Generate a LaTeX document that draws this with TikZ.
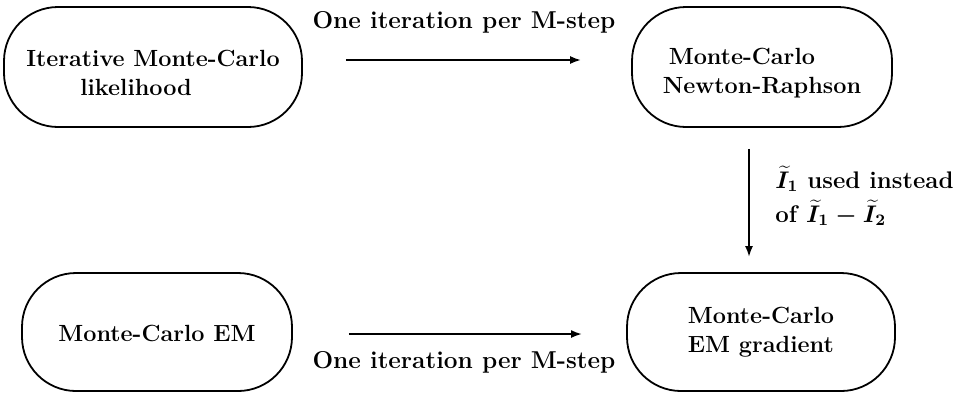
\documentclass[tikz,border=0pt]{standalone}
\usetikzlibrary{arrows.meta}
\begin{document}
\begin{tikzpicture}[x=0.5pt,y=-0.5pt,
  box/.style={draw, line width=0.9pt, rounded corners=27pt, inner sep=0pt,
    minimum height=60pt, align=left,
    font=\fontsize{11.7}{14.5}\selectfont\bfseries},
  lbl/.style={inner sep=0pt, font=\fontsize{12.2}{14.5}\selectfont\bfseries},
  arr/.style={line width=1pt, -{Latex[length=5.5pt,width=4pt]}}]
\useasboundingbox (0,0) rectangle (962,393);
\node[box, minimum width=149pt] (b1) at (153,67) {\rule{0pt}{14pt}Iterative Monte-Carlo\\\hspace*{27pt}likelihood};
\node[box, minimum width=130pt] (b2) at (762,67) {\rule{0pt}{14pt}\hspace*{3pt}Monte-Carlo\\Newton-Raphson};
\node[box, minimum width=134pt, minimum height=59pt] (b3) at (761,332) {Monte-Carlo\\EM gradient};
\node[box, minimum width=135pt, minimum height=59pt] (b4) at (157,332) {\rule{0pt}{10pt}Monte-Carlo EM};
\draw[arr, shorten <=21.5pt, shorten >=25pt] ([yshift=3.5pt]b1.east) -- ([yshift=3.5pt]b2.west);
\draw[arr, shorten <=28pt, shorten >=22pt] ([yshift=-1pt]b4.east) -- ([yshift=-1pt]b3.west);
\draw[arr, shorten <=10.5pt, shorten >=7.5pt] ([xshift=-6.5pt]b2.south) -- ([xshift=-6.5pt]b2.south |- b3.north) coordinate[midway] (vm);
\node[lbl, anchor=base] (t1) at (464,28) {One iteration per M-step};
\node[lbl, anchor=base] (t2) at (464,368) {One iteration per M-step};
\node[lbl, anchor=west, align=left, font=\fontsize{12}{17}\selectfont\bfseries\boldmath] (t3) at ([xshift=13pt,yshift=2pt]vm) {$\widetilde{I}_1$ used instead\\of $\widetilde{I}_1-\widetilde{I}_2$};
\end{tikzpicture}
\end{document}
